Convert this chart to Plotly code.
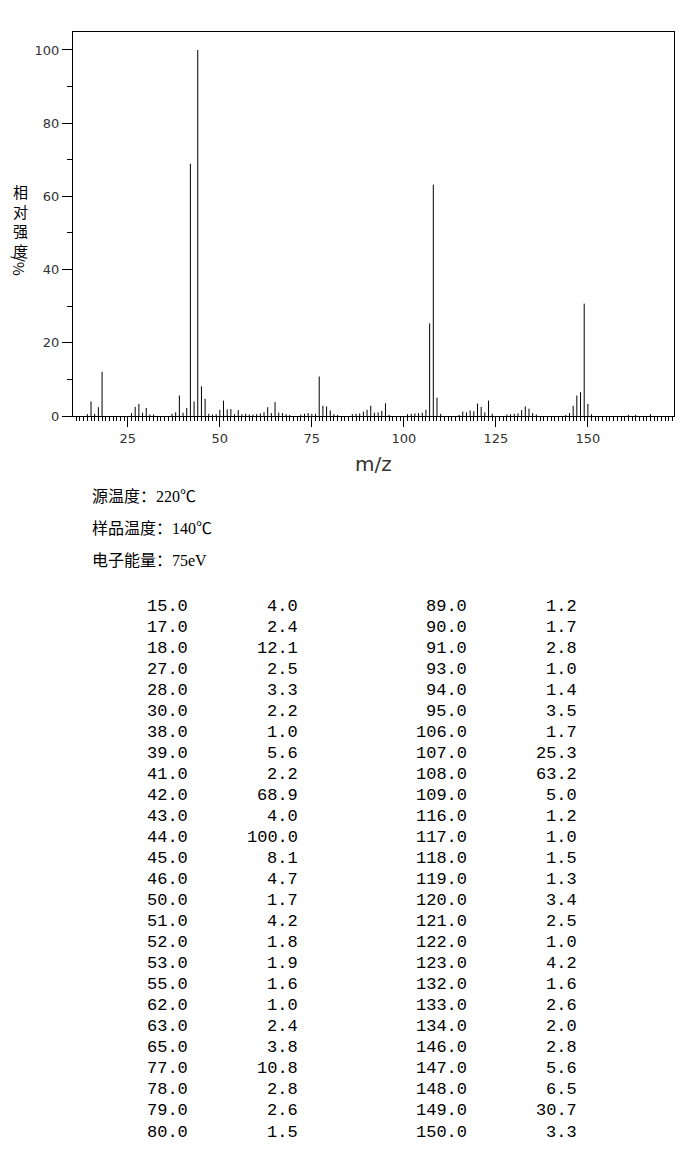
import plotly.graph_objects as go

# peaks listed in the table (m/z, relative intensity %)
mz = [15, 17, 18, 27, 28, 30, 38, 39, 41, 42, 43, 44, 45, 46, 50, 51, 52,
      53, 55, 62, 63, 65, 77, 78, 79, 80,
      89, 90, 91, 93, 94, 95, 106, 107, 108, 109, 116, 117, 118, 119, 120,
      121, 122, 123, 132, 133, 134, 146, 147, 148, 149, 150]
intensity = [4.0, 2.4, 12.1, 2.5, 3.3, 2.2, 1.0, 5.6, 2.2, 68.9, 4.0, 100.0,
             8.1, 4.7, 1.7, 4.2, 1.8, 1.9, 1.6, 1.0, 2.4, 3.8, 10.8, 2.8, 2.6, 1.5,
             1.2, 1.7, 2.8, 1.0, 1.4, 3.5, 1.7, 25.3, 63.2, 5.0, 1.2, 1.0, 1.5,
             1.3, 3.4, 2.5, 1.0, 4.2, 1.6, 2.6, 2.0, 2.8, 5.6, 6.5, 30.7, 3.3]

# small peaks (<1 %) only seen in the spectrum
minor_mz = [14, 16, 26, 29, 31, 32, 37, 40, 47, 48, 49, 54, 56, 57, 58, 59,
            60, 61, 64, 66, 67, 68, 69, 72, 73, 74, 75, 76, 81, 82, 86, 87, 88,
            92, 96, 101, 102, 103, 104, 105, 110, 115, 124, 128, 129, 130, 131,
            135, 136, 144, 145, 151, 161, 163, 167]
minor_int = [0.5, 0.6, 0.8, 0.9, 0.4, 0.4, 0.6, 0.9, 0.6, 0.4, 0.5, 0.5, 0.5,
             0.6, 0.4, 0.4, 0.5, 0.7, 0.8, 0.9, 0.8, 0.5, 0.3, 0.4, 0.6, 0.8,
             0.6, 0.6, 0.5, 0.3, 0.5, 0.6, 0.7, 0.9, 0.3, 0.5, 0.6, 0.7, 0.8,
             0.9, 0.6, 0.3, 0.6, 0.4, 0.5, 0.6, 0.7, 0.8, 0.4, 0.3, 0.8, 0.5,
             0.3, 0.3, 0.5]

info_lines = ["源温度：220℃", "样品温度：140℃", "电子能量：75eV"]

# page body adds 8px around the figure
OFF = 8
W, H = 696 - 2 * OFF, 1162 - 2 * OFF
L, R, T, B = 73 - OFF, 674 - OFF, 32 - OFF, 416 - OFF


def px(x):
    return (x - OFF - L) / (R - L)


def py(y):
    return (B - (y - OFF)) / (B - T)


# stick spectrum as line segments
all_mz = mz + minor_mz
all_int = intensity + minor_int
xs, ys = [], []
for m, v in zip(all_mz, all_int):
    xs += [m, m, None]
    ys += [0, v, None]

fig = go.Figure()
fig.add_trace(go.Scatter(x=xs, y=ys, mode='lines',
                         line=dict(color='black', width=1),
                         hoverinfo='skip', showlegend=False))

tickfont = dict(family='DejaVu Sans', size=13, color='#333')
fig.update_xaxes(range=[10.1, 173.4], tickmode='linear', tick0=0, dtick=25,
                 ticks='outside', ticklen=10, tickwidth=1, tickcolor='black',
                 minor=dict(dtick=1, tick0=0, ticks='outside', ticklen=4,
                            tickcolor='black', tickwidth=1),
                 showline=True, linecolor='black', linewidth=1, mirror=True,
                 showgrid=False, zeroline=False, tickfont=tickfont)
fig.update_yaxes(range=[0, 104.9], tickmode='linear', tick0=0, dtick=20,
                 ticks='outside', ticklen=10, tickwidth=1, tickcolor='black',
                 minor=dict(dtick=10, tick0=0, ticks='outside', ticklen=5,
                            tickcolor='black', tickwidth=1),
                 showline=True, linecolor='black', linewidth=1, mirror=True,
                 showgrid=False, zeroline=False, tickfont=tickfont)

ann = []
# axis titles
ann.append(dict(x=px(373), y=py(464), text='m/z', xanchor='center',
                font=dict(family='DejaVu Sans', size=20, color='#333')))
ann.append(dict(x=px(20), y=py(221), text='相<br>对<br>强<br>度', xanchor='center',
                font=dict(family='Noto Sans CJK SC', size=15, color='black')))
ann.append(dict(x=px(20), y=py(266), text='/%', textangle=90, xanchor='center',
                font=dict(family='Noto Sans CJK SC', size=15, color='black')))

# instrument conditions
for i, line in enumerate(info_lines):
    ann.append(dict(x=px(90), y=py(496 + 32 * i), text=line, xanchor='left',
                    font=dict(family='Liberation Serif, Noto Sans CJK SC',
                              size=16, color='black')))

# peak table, two blocks of two columns
half = len(mz) // 2
mono = dict(family='Liberation Mono', size=17, color='black')
for i in range(half):
    yy = py(606 + 21.04 * i)
    row = [(190, mz[i]), (300, intensity[i]),
           (469, mz[half + i]), (579, intensity[half + i])]
    for xr, val in row:
        ann.append(dict(x=px(xr), y=yy, text=f'{val:.1f}', xanchor='right',
                        font=mono))

fig.update_layout(width=W, height=H, annotations=ann,
                  margin=dict(l=L, r=W - R, t=T, b=H - B),
                  plot_bgcolor='white', paper_bgcolor='white')
fig.update_annotations(xref='paper', yref='paper', yanchor='middle',
                       showarrow=False)

fig.write_html("out.html")
